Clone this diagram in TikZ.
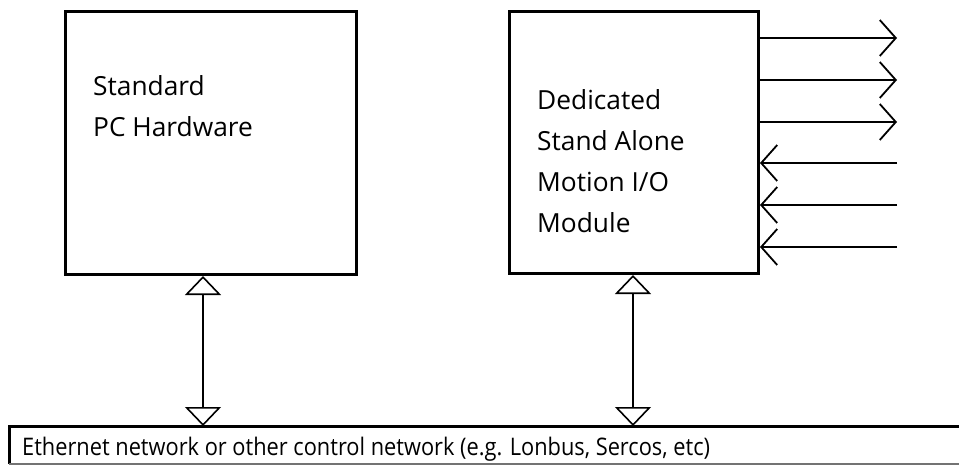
\documentclass[tikz,border=0pt]{standalone}
\usepackage{fontspec}
\setmainfont{Open Sans}
\newfontfamily\netfont[FakeStretch=0.9]{Open Sans}
\usetikzlibrary{arrows.meta}
\begin{document}
\begin{tikzpicture}[x=1pt,y=-1pt,
  boxstyle/.style={draw=black, line width=3pt, minimum width=#1, inner sep=0pt, anchor=north west},
  lbl/.style={anchor=base west, inner sep=0pt, font=\fontsize{26.3}{30}\selectfont},
  netlbl/.style={anchor=base west, inner sep=0pt, font=\netfont\fontsize{24.2}{28}\selectfont},
  dbl/.style={line width=1.6pt, {Triangle[open, width=36pt, length=19pt, line width=1.6pt]}-{Triangle[open, width=36pt, length=19pt, line width=1.6pt]}},
  sidearr/.style={line width=1.8pt, -{Straight Barb[length=16pt, width=36pt, line width=1.8pt]}}
]
\useasboundingbox (0,0) rectangle (959,466);
\node[boxstyle=291pt, minimum height=263pt] (box1) at (64,10) {};
\node[boxstyle=249pt, minimum height=262pt] (box2) at (508,10) {};
\node[lbl] (t1) at (93,95) {Standard};
\node[lbl] (t2) at (93,136) {PC Hardware};
\node[lbl] (t3) at (537,109) {Dedicated};
\node[lbl] (t4) at (537,150) {Stand Alone};
\node[lbl] (t5) at (537,191) {Motion I/O};
\node[lbl] (t6) at (537,232) {Module};
% network bar
\coordinate (nw) at (9,426);
\coordinate (ne) at (962,426);
\coordinate (sw) at (9,464);
\coordinate (se) at (962,464);
\node[anchor=north west, inner sep=0pt, minimum height=38pt, minimum width=953pt] (net) at (nw) {};
\draw[line width=3pt] (ne) -- (nw) -- (sw);
\draw[line width=2pt, black!55] (sw) -- (se);
\node[netlbl] (t7) at (22,455) {Ethernet network or other control network (e.g. Lonbus, Sercos, etc)};
% vertical connectors
\coordinate (p1) at (203,0);
\coordinate (p2) at (633,0);
\draw[dbl] (p1 |- box1.south) -- (p1 |- net.north);
\draw[dbl] (p2 |- box2.south) -- (p2 |- net.north);
% side arrows
\coordinate (o1) at (897,38);
\coordinate (o2) at (897,80);
\coordinate (o3) at (897,122);
\coordinate (i1) at (897,163);
\coordinate (i2) at (897,205);
\coordinate (i3) at (897,247);
\draw[sidearr] (o1 -| box2.east) -- (o1);
\draw[sidearr] (o2 -| box2.east) -- (o2);
\draw[sidearr] (o3 -| box2.east) -- (o3);
\draw[sidearr] (i1) -- (i1 -| box2.east);
\draw[sidearr] (i2) -- (i2 -| box2.east);
\draw[sidearr] (i3) -- (i3 -| box2.east);
\end{tikzpicture}
\end{document}
